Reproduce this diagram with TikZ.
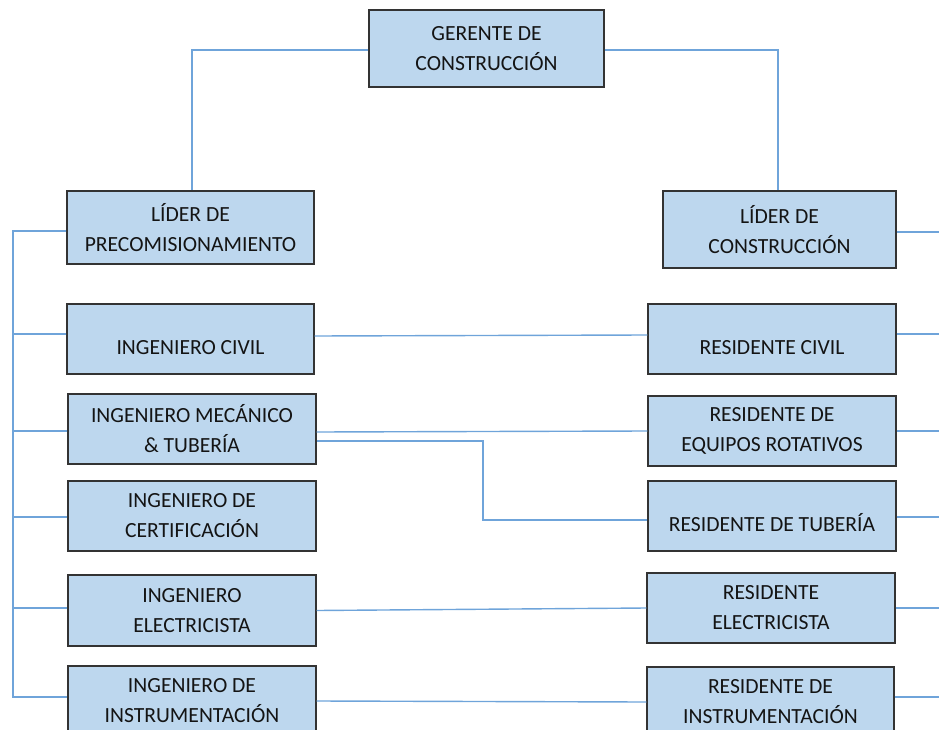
\documentclass[tikz,border=0pt]{standalone}
\usepackage{fontspec}
\setmainfont{Carlito}
\usetikzlibrary{calc}

\definecolor{boxfill}{HTML}{BDD7EE}
\definecolor{boxline}{HTML}{333333}
\definecolor{linkc}{HTML}{6FA4DA}
\definecolor{textc}{HTML}{141414}

\tikzset{
  box/.style={draw=boxline, fill=boxfill, line width=1.3pt, inner sep=0pt,
    minimum width=248pt, minimum height=70pt, align=center, text=textc,
    font=\fontsize{21.6}{30}\selectfont},
  lbl/.style={inner sep=0pt, text=textc, font=\fontsize{21.6}{30}\selectfont},
  link/.style={draw=linkc, line width=1.4pt}
}

\begin{document}
\begin{tikzpicture}[x=1pt, y=-1pt]
\useasboundingbox (0,0) rectangle (939,730);

% top of the chart
\node[box, minimum width=235pt, minimum height=77pt] (g) at (486.5,48.5) {GERENTE DE\\CONSTRUCCIÓN};
\node[box, minimum width=247pt, minimum height=73pt] (lp) at (190.5,227.5) {LÍDER DE\\PRECOMISIONAMIENTO};
\node[box, minimum width=233pt, minimum height=77pt] (lc) at (779.5,229.5) {LÍDER DE\\CONSTRUCCIÓN};

% left column: engineers
\node[box, minimum width=247pt] (ic) at (190.5,339) {};
\node[lbl] (ict) at (190.5,348) {INGENIERO CIVIL};
\node[box] (im) at (192,429) {INGENIERO MECÁNICO\\\& TUBERÍA};
\node[box] (icert) at (192,516) {INGENIERO DE\\CERTIFICACIÓN};
\node[box, minimum height=71pt] (ie) at (192,610.5) {INGENIERO\\ELECTRICISTA};
\node[box] (ii) at (192,701) {INGENIERO DE\\INSTRUMENTACIÓN};

% right column: site residents
\node[box] (rc) at (772,339) {};
\node[lbl] (rct) at (772,348) {RESIDENTE CIVIL};
\node[box] (rer) at (772,431) {RESIDENTE DE\\EQUIPOS ROTATIVOS};
\node[box] (rt) at (772,516) {};
\node[lbl] (rtt) at (772,523) {RESIDENTE DE TUBERÍA};
\node[box] (rel) at (771,608) {RESIDENTE\\ELECTRICISTA};
\node[box, minimum width=247pt] (ri) at (770.5,702) {RESIDENTE DE\\INSTRUMENTACIÓN};

% free ends of the connectors
\coordinate (bustop) at (13,231);
\coordinate (busbot) at (13,697);
\coordinate (edge) at (939,0);
\coordinate (jog) at (483,0);

% manager to leaders
\draw[link] ([yshift=-1.5pt]g.west) -| ([xshift=1.5pt]lp.north);
\draw[link] ([yshift=-1.5pt]g.east) -| ([xshift=-1.5pt]lc.north);

% left bus
\draw[link] ([yshift=-3.5pt]lp.west) -- ([yshift=-3.5pt]lp.west -| bustop) -- (busbot) -- ([yshift=4pt]ii.west);
\draw[link] ([yshift=5pt]ic.west) -- ([yshift=5pt]ic.west -| bustop);
\draw[link] ([yshift=-2pt]im.west) -- ([yshift=-2pt]im.west -| bustop);
\draw[link] ([yshift=-1pt]icert.west) -- ([yshift=-1pt]icert.west -| bustop);
\draw[link] ([yshift=2.5pt]ie.west) -- ([yshift=2.5pt]ie.west -| bustop);

% engineers to residents
\draw[link] ([yshift=3pt]ic.east) -- ([yshift=4pt]rc.west);
\draw[link] ([yshift=-3pt]im.east) -- (rer.west);
\draw[link] ([yshift=-12pt]im.east) -- ([yshift=-12pt]im.east -| jog)
  -- ([yshift=-4pt]rt.west -| jog) -- ([yshift=-4pt]rt.west);
\draw[link] (ie.east) -- (rel.west);
\draw[link] (ii.east) -- (ri.west);

% right-hand outgoing lines
\draw[link] ([yshift=-2.5pt]lc.east) -- ([yshift=-2.5pt]lc.east -| edge);
\draw[link] ([yshift=5pt]rc.east) -- ([yshift=5pt]rc.east -| edge);
\draw[link] (rer.east) -- (rer.east -| edge);
\draw[link] ([yshift=-1pt]rt.east) -- ([yshift=-1pt]rt.east -| edge);
\draw[link] (rel.east) -- (rel.east -| edge);
\draw[link] ([yshift=5pt]ri.east) -- ([yshift=5pt]ri.east -| edge);
\end{tikzpicture}
\end{document}
